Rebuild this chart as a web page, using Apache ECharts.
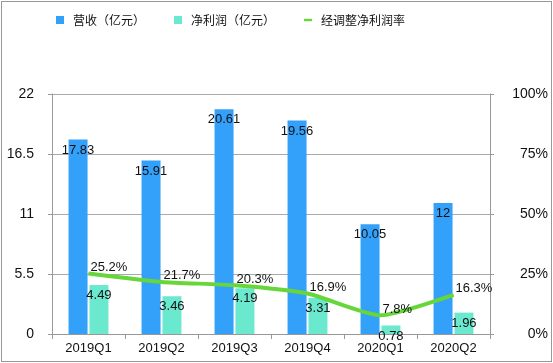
<!DOCTYPE html>
<html><head><meta charset="utf-8">
<script src="https://cdn.jsdelivr.net/npm/echarts@6/dist/echarts.min.js"></script>
<style>html,body{margin:0;padding:0;background:#fff;}#frame{position:absolute;left:1px;top:1px;width:549px;height:359px;border:1px solid #999;}#c{position:absolute;left:0;top:0;width:553px;height:363px;}</style>
</head><body><div id="frame"></div><div id="c"></div>
<script>
const categories = ['2019Q1','2019Q2','2019Q3','2019Q4','2020Q1','2020Q2'];
const revenue = [17.83, 15.91, 20.61, 19.56, 10.05, 12];
const netProfit = [4.49, 3.46, 4.19, 3.31, 0.78, 1.96];
const margin = [0.252, 0.217, 0.203, 0.169, 0.078, 0.163];
const leftTicks = [0, 5.5, 11, 16.5, 22];
const names = ['营收（亿元）','净利润（亿元）','经调整净利润率'];
const font = 'Liberation Sans, "Noto Sans CJK SC", sans-serif';
const chart = echarts.init(document.getElementById('c'));
chart.setOption({
  animation:false,
  textStyle:{fontFamily:font},
  legend:{top:9,left:51,itemGap:29,itemWidth:8,itemHeight:8,textStyle:{fontSize:12,color:'#111',padding:[0,0,0,4],fontFamily:'"Noto Sans CJK SC", sans-serif'},
    data:[{name:names[0],icon:'rect'},{name:names[1],icon:'rect'},{name:names[2],icon:'path://M0,0H10V3H0Z'}]},
  grid:{left:52,right:63,top:94,bottom:29},
  xAxis:{type:'category',data:categories,axisLine:{lineStyle:{color:'#999'}},axisTick:{show:true,length:5,lineStyle:{color:'#999'}},
    axisLabel:{color:'#111',fontSize:13,margin:8}},
  yAxis:[{type:'value',min:0,max:22,interval:5.5,axisLine:{show:true,lineStyle:{color:'#999'}},axisTick:{show:true,length:4,lineStyle:{color:'#999'}},
    splitLine:{lineStyle:{color:'#aaa'}},axisLabel:{color:'#111',fontSize:14,margin:18,formatter:v=>leftTicks.includes(v)?String(v):''}},
   {type:'value',min:0,max:1,interval:0.25,axisLine:{show:true,lineStyle:{color:'#999'}},axisTick:{show:true,length:4,lineStyle:{color:'#999'}},
    splitLine:{show:false},axisLabel:{color:'#111',fontSize:14,margin:58,align:'right',formatter:v=>Math.round(v*100)+'%'}}],
  series:[
    {name:names[0],type:'bar',data:revenue,barWidth:19,barGap:'10%',itemStyle:{color:'#33a0fa'},
      label:{show:true,position:'insideTop',distance:2,color:'#111',fontSize:13,offset:[0,2]}},
    {name:names[1],type:'bar',data:netProfit,barWidth:19,itemStyle:{color:'#6be9cf'},
      label:{show:true,position:'insideTop',distance:2,color:'#111',fontSize:13,offset:[0,2]}},
    {name:names[2],type:'line',yAxisIndex:1,data:margin,smooth:0.2,symbol:'circle',symbolSize:1,showSymbol:true,lineStyle:{color:'#66d63a',width:4},itemStyle:{color:'#66d63a'},
      label:{show:true,position:'top',align:'left',offset:[2,6],color:'#111',fontSize:13,formatter:p=>(p.value*100).toFixed(1)+'%'}}
  ]
});
</script></body></html>
